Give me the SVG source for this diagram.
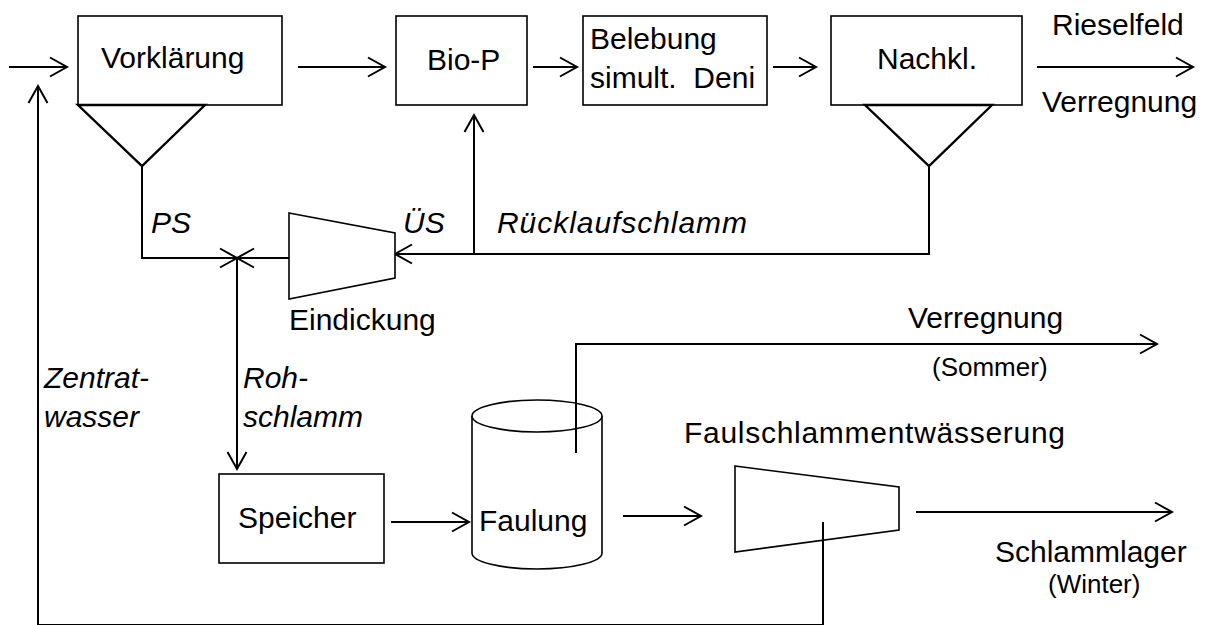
<svg xmlns="http://www.w3.org/2000/svg" width="1210" height="625" viewBox="0 0 1210 625">
<style>
text{font-family:"Liberation Sans",Arial,sans-serif;font-size:30px;fill:#000}
.it{font-style:italic}
.sm{font-size:26px}
.box{fill:#fff;stroke:#000;stroke-width:1.6}
.tri{fill:#fff;stroke:#000;stroke-width:2.4;stroke-linejoin:miter}
.ln{fill:none;stroke:#000;stroke-width:2}
.arr{fill:none;stroke:#000;stroke-width:2;marker-end:url(#ah)}
</style>
<defs>
<marker id="ah" markerUnits="userSpaceOnUse" markerWidth="24" markerHeight="24" refX="19" refY="12" orient="auto" overflow="visible">
<path d="M2,2.5 L19,12 L2,21.5" fill="none" stroke="#000" stroke-width="2"/>
</marker>
</defs>
<g id="connectors">
<line class="arr" x1="9" y1="67" x2="67" y2="67"/>
<line class="arr" x1="298" y1="67" x2="385" y2="67"/>
<line class="arr" x1="533" y1="67" x2="577" y2="67"/>
<line class="arr" x1="773" y1="67" x2="816" y2="67"/>
<line class="arr" x1="1037" y1="67" x2="1193" y2="67"/>
<polyline class="arr" points="142,166 142,258 237,258"/>
<line class="arr" x1="289" y1="258" x2="237" y2="258"/>
<line class="arr" x1="237" y1="258" x2="237" y2="469"/>
<polyline class="arr" points="929,166 929,254 395,254"/>
<line class="arr" x1="474" y1="254" x2="474" y2="115"/>
<line class="arr" x1="391" y1="522" x2="469" y2="522"/>
<line class="arr" x1="623" y1="516" x2="701" y2="516"/>
<line class="arr" x1="916" y1="512" x2="1172" y2="512"/>
<polyline class="arr" points="823,522 823,625 38,625 38,86"/>
</g>
<g id="vorklaerung">
<rect class="box" x="78" y="16" width="204" height="89"/>
<polygon class="tri" points="78,105 205,105 142,166"/>
<text x="101" y="68">Vorklärung</text>
</g>
<g id="biop">
<rect class="box" x="396" y="16" width="131" height="89"/>
<text x="427" y="70">Bio-P</text>
</g>
<g id="belebung">
<rect class="box" x="583" y="16" width="184" height="89"/>
<text x="590" y="49">Belebung</text>
<text x="590" y="88" style="white-space:pre">simult.  Deni</text>
</g>
<g id="nachkl">
<rect class="box" x="831" y="16" width="191" height="89"/>
<polygon class="tri" points="865,105 992,105 929,166"/>
<text x="877" y="69">Nachkl.</text>
</g>
<g id="eindickung">
<polygon class="box" points="289,213 395,233 395,278 289,299"/>
<text x="289" y="330">Eindickung</text>
</g>
<g id="speicher">
<rect class="box" x="219" y="474" width="165" height="89"/>
<text x="238" y="528">Speicher</text>
</g>
<g id="faulung">
<path class="box" d="M472,416 L472,553 A65,16 0 0 0 602,553 L602,416"/>
<ellipse class="box" cx="537" cy="416" rx="65" ry="16"/>
<text x="479" y="531">Faulung</text>
</g>
<g id="entwaesserung">
<polygon class="box" points="735,466 899,487 899,530 735,552"/>
<text x="684" y="443" textLength="381">Faulschlammentwässerung</text>
</g>
<g id="connectors-over">
<polyline class="arr" points="576,453 576,344 1157,344"/>
<line class="ln" x1="823" y1="522" x2="823" y2="552"/>
</g>
<g id="labels">
<text x="1052" y="35">Rieselfeld</text>
<text x="1042" y="112">Verregnung</text>
<text class="it" x="151" y="233">PS</text>
<text class="it" x="403" y="233">ÜS</text>
<text class="it" x="497" y="233" textLength="250">Rücklaufschlamm</text>
<text class="it" x="44" y="388">Zentrat-</text>
<text class="it" x="44" y="427">wasser</text>
<text class="it" x="243" y="388">Roh-</text>
<text class="it" x="243" y="427">schlamm</text>
<text x="908" y="328">Verregnung</text>
<text class="sm" x="932" y="376">(Sommer)</text>
<text x="995" y="562">Schlammlager</text>
<text class="sm" x="1048" y="593">(Winter)</text>
</g>
</svg>
